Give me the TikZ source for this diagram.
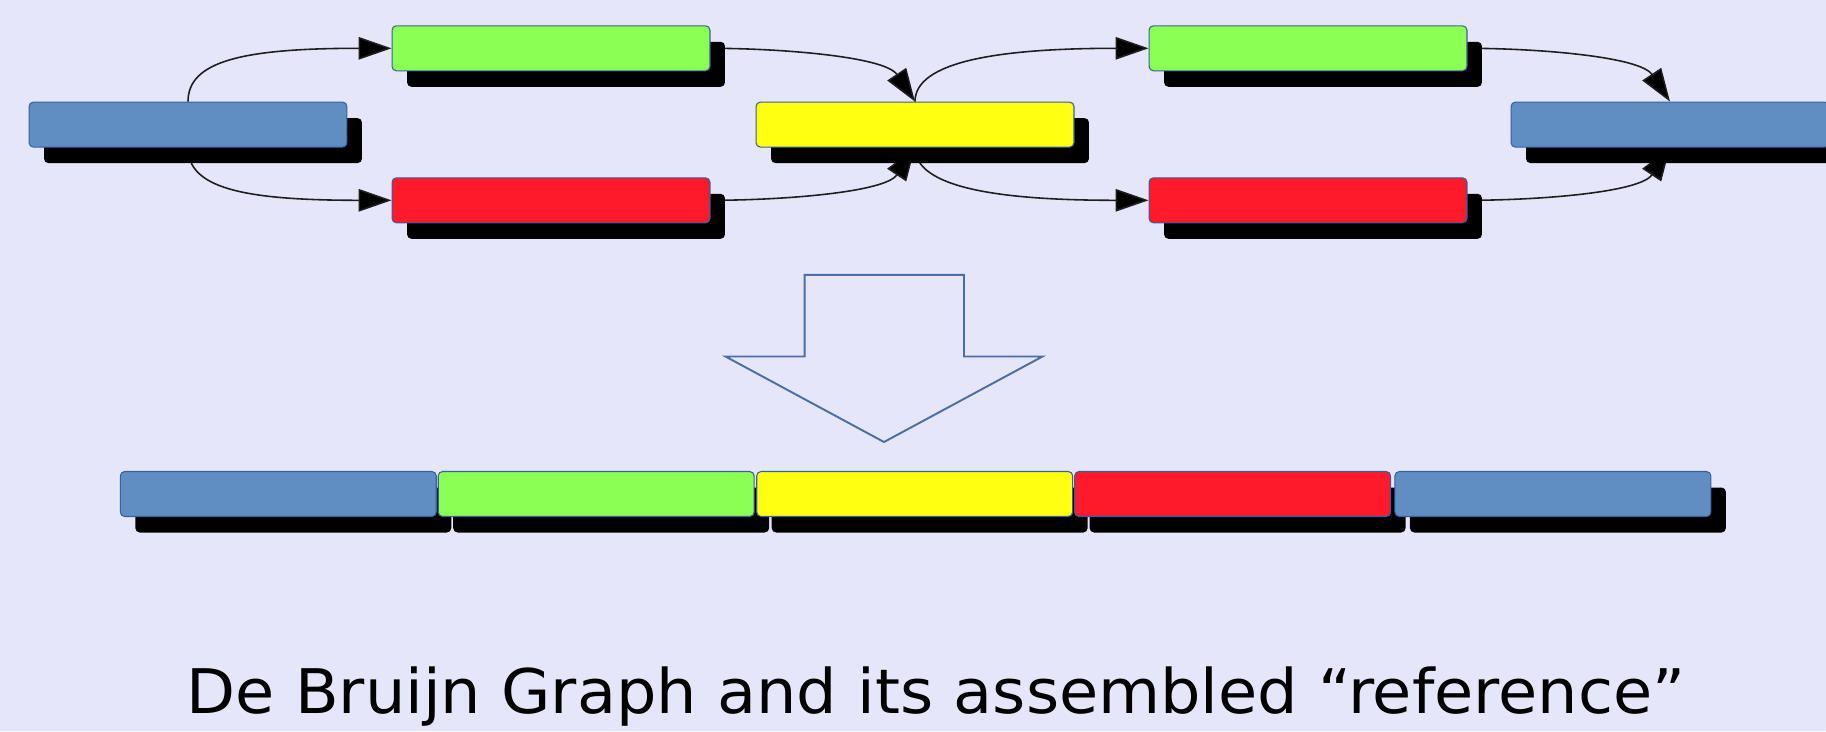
\documentclass[tikz,border=0pt]{standalone}
\usepackage{fontspec}
\usepackage{graphicx}
\setmainfont{DejaVu Sans}
\usetikzlibrary{arrows.meta,shadows}
\definecolor{bgcol}{RGB}{230,230,250}
\definecolor{kblue}{RGB}{96,141,194}
\definecolor{kgreen}{RGB}{139,255,84}
\definecolor{kyellow}{RGB}{255,255,17}
\definecolor{kred}{RGB}{252,26,43}
\definecolor{bordercol}{RGB}{58,95,160}
\definecolor{arrowcol}{RGB}{74,110,165}
\definecolor{linkcol}{RGB}{30,30,30}
\pgfdeclarelayer{bglayer}
\pgfdeclarelayer{links}
\pgfsetlayers{bglayer,links,main}
\tikzset{
  kmer/.style={rectangle, rounded corners=2.5pt, minimum width=6.36cm, minimum height=0.9cm,
    inner sep=0pt, draw=bordercol, line width=0.6pt,
    drop shadow={shadow xshift=0.3cm, shadow yshift=-0.32cm, fill=black, opacity=1}},
  kb/.style={kmer, fill=kblue},
  kg/.style={kmer, fill=kgreen},
  ky/.style={kmer, fill=kyellow},
  kr/.style={kmer, fill=kred},
  flat/.style={minimum width=6.32cm},
  link/.style={draw=linkcol, line width=0.9pt, -{Triangle[length=0.66cm,width=0.45cm,fill=black]}},
  bigarrow/.style={draw=arrowcol, line width=1.1pt, fill=bgcol, line join=miter}
}
\begin{document}
\begin{tikzpicture}[x=0.02cm,y=-0.02cm]
\useasboundingbox (0,0) rectangle (1826,731);
\clip (0,0) rectangle (1826,731);
\begin{pgfonlayer}{bglayer}
\fill[bgcol] (0,0) rectangle (1826,731);
\end{pgfonlayer}
% de Bruijn graph
\node[kb] (bl) at (188,124.6) {};
\node[kg] (gtl) at (551,48.3) {};
\node[kr] (rbl) at (551,200.3) {};
\node[ky] (yel) at (915,124.6) {};
\node[kg] (gtr) at (1308,48.3) {};
\node[kr] (rbr) at (1308,200.3) {};
\node[kb] (br) at (1670,124.6) {};
\begin{pgfonlayer}{links}
\draw[link] (bl.north) .. controls +(0,-40) and +(-150,0) .. (gtl.west);
\draw[link] (bl.south) .. controls +(0,40) and +(-150,0) .. (rbl.west);
\draw[link] (gtl.east) .. controls +(70,0) and +(-30,-45) .. (yel.north);
\draw[link] (rbl.east) .. controls +(70,0) and +(-30,45) .. (yel.south);
\draw[link] (yel.north) .. controls +(0,-40) and +(-150,0) .. (gtr.west);
\draw[link] (yel.south) .. controls +(0,40) and +(-150,0) .. (rbr.west);
\draw[link] (gtr.east) .. controls +(70,0) and +(-30,-45) .. (br.north);
\draw[link] (rbr.east) .. controls +(70,0) and +(-30,45) .. (br.south);
\end{pgfonlayer}
% block arrow
\draw[bigarrow] (804.7,274.8) -- (964,274.8) -- (964,356.5) -- (1042.5,356.5)
  -- (884,442) -- (725.5,356.5) -- (804.7,356.5) -- cycle;
% assembled reference
\node[kb,flat] (a1) at (278.3,494) {};
\node[kg,flat] (a2) at (596.2,494) {};
\node[ky,flat] (a3) at (914.7,494) {};
\node[kr,flat] (a4) at (1232.6,494) {};
\node[kb,flat] (a5) at (1552.9,494) {};
% caption
\node[anchor=base, inner sep=0pt] (caption) at (936,713)
  {\resizebox{29.98cm}{\height}{\fontsize{35}{42}\selectfont De Bruijn Graph and its assembled “reference”}};
\end{tikzpicture}
\end{document}
